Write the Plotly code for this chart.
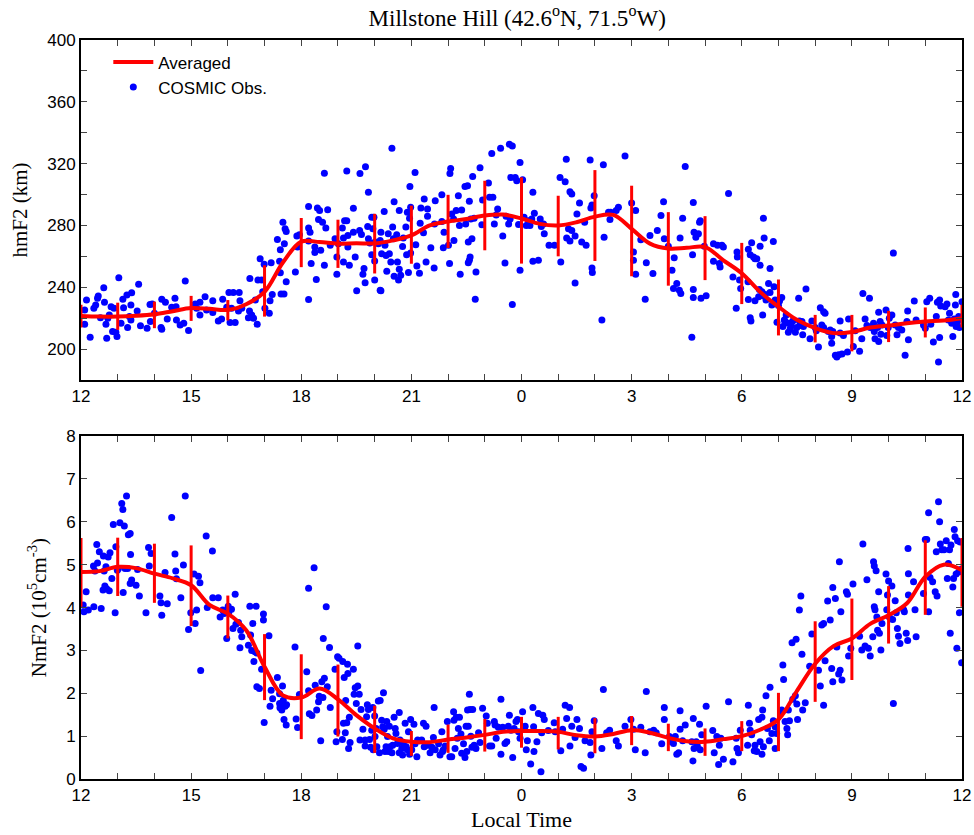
import plotly.graph_objects as go

# ---------------- data ----------------
# averaged curve (half-hour samples), local time expressed as 12..36 h
curve_time = [12 + 0.5 * i for i in range(49)]
curve_hmf2 = [221.4, 221, 221, 221.5, 222.5, 224.5, 226.5, 226, 225.3, 229, 237, 256, 269.5, 269.2, 268.2,
              268.5, 268.3, 270.3, 273.5, 280, 282.5, 284.2, 286.4, 287, 284.5, 281, 280, 282.1, 285.7,
              286.8, 277.8, 268.2, 265, 265.5, 266, 257.4, 249, 237, 227.4, 218.9, 213.5, 210.3, 211,
              213.9, 215.2, 216.7, 217.8, 218.5, 220]
curve_nmf2 = [4.83, 4.85, 4.95, 4.92, 4.79, 4.68, 4.52, 4.06, 3.86, 3.47, 2.62, 1.95, 1.9, 2.11, 1.86,
              1.49, 1.18, 0.95, 0.87, 0.86, 0.92, 0.97, 1.03, 1.1, 1.12, 1.12, 1.1, 1.02, 0.99, 1.05,
              1.14, 1.08, 0.96, 0.88, 0.87, 0.93, 1.0, 1.15, 1.39, 2.05, 2.69, 3.1, 3.28, 3.62, 3.82,
              4.1, 4.72, 5.0, 4.87]

# hourly mean and standard deviation (error bars)
bar_time = list(range(12, 37))
bar_hmf2 = [221.3, 221.2, 222.1, 226.3, 225.1, 237.6, 268.9, 268.1, 268.2, 274, 282.6, 286.4, 283.2,
            279.6, 286.4, 276.4, 264.8, 265.3, 248.9, 226.9, 213.2, 210.3, 214.6, 217.2, 221.3]
bar_hmf2_sd = [7.3, 8.8, 8.6, 8.1, 6.6, 16.6, 15.9, 15.6, 19.3, 18.8, 17.2, 22.5, 27.9, 19.6, 29.4,
               29.3, 23.8, 20.7, 19.8, 18.1, 8.9, 11.8, 10.1, 9.7, 7.3]
bar_nmf2 = [4.82, 4.95, 4.80, 4.51, 3.78, 2.61, 1.92, 1.83, 1.16, 0.83, 0.94, 1.02, 1.09, 1.07, 1.01,
            1.13, 0.97, 0.86, 1.0, 1.33, 2.74, 3.26, 3.83, 4.70, 4.82]
bar_nmf2_sd = [0.80, 0.68, 0.69, 0.94, 0.50, 0.77, 0.99, 0.84, 0.55, 0.29, 0.33, 0.38, 0.36, 0.38, 0.41,
               0.34, 0.32, 0.32, 0.35, 0.68, 0.94, 0.95, 0.67, 0.87, 0.80]

# COSMIC observations (local time, hmF2 km)
obs_hmf2 = [
    (12.1,225.3),(12.15,231.7),(12.1,216),(12.25,207.7),(12.35,226.4),(12.4,228.5),(12.45,232.8),(12.47,234.3),(12.53,220.3),(12.62,239.6),(12.64,230.2),(12.68,216),(12.7,207),(12.73,219.9),(12.77,222),(12.82,227.4),(12.86,211.3),(12.9,226.4),(12.95,210.9),(12.98,208.1),(13.03,246.1),(13.09,216.7),(13.14,232.3),(13.16,226.8),(13.25,234.9),(13.27,213.9),(13.32,221),(13.36,228.5),(13.38,236.4),(13.36,218.8),(13.53,224.6),(13.57,242),(13.62,215),(13.8,213.5),(13.88,228.9),(13.89,217.8),(13.94,229.1),(14.0,223.1),(14.18,213.9),(14.2,232.3),(14.2,212.8),(14.3,230.2),(14.35,219.5),(14.47,227),(14.56,232.8),(14.59,227.4),(14.6,218.8),(14.7,215.6),(14.8,216.7),(14.84,244.1),(14.93,212),(15.11,229.1),(15.15,226.4),(15.24,230.2),(15.24,222.1),(15.38,233.8),(15.42,225.3),(15.59,231.3),(15.59,223.6),(15.74,218.2),(15.83,219.5),(15.86,232.3),(15.97,227),(16.03,236.6),(16.06,217.1),(16.1,226.4),(16.15,236.6),(16.2,217.1),(16.29,224.6),(16.31,236.6),(16.33,231.3),(16.38,226.4),(16.56,220.3),(16.59,224.6),(16.6,245.6),(16.65,222),(16.7,219.9),(16.75,231.7),(16.8,216),(16.82,244.6),(16.88,258.5),(16.92,244.6),(16.95,237.1),(16.99,254.9),(17.01,226.4),(17.13,223.1),(17.15,231.3),(17.18,255.9),(17.21,235.3),(17.35,270.9),(17.41,256.8),(17.43,264.3),(17.45,235.6),(17.5,282.1),(17.53,235.6),(17.54,268.1),(17.56,277.8),(17.59,243.5),(17.59,276.1),(17.43,249.3),(17.84,249.9),(17.88,273.1),(17.9,266),(17.95,273.9),(18.2,292.2),(18.2,278.4),(18.2,232.1),(18.2,269.9),(18.24,275.6),(18.27,255.3),(18.37,266),(18.37,262.4),(18.41,245),(18.44,291.3),(18.47,283.8),(18.5,289.6),(18.53,263.9),(18.58,282.1),(18.63,313.8),(18.63,254.2),(18.67,278.4),(18.72,290.2),(18.79,267.1),(18.92,271.4),(18.97,259.6),(18.97,248.4),(19.01,268.1),(19.12,278.4),(19.15,271.8),(19.15,256.4),(19.18,283.1),(19.24,283.1),(19.24,315.3),(19.27,273.5),(19.27,266),(19.31,254.2),(19.42,291.1),(19.42,275.6),(19.47,259.6),(19.51,237.7),(19.59,276.7),(19.6,313.6),(19.64,274.1),(19.68,248.4),(19.71,252.1),(19.74,242.9),(19.75,317.9),(19.81,279.3),(19.83,301.4),(19.83,271.4),(19.87,268.6),(19.92,285.3),(19.92,261.1),(19.98,285.3),(20.0,257),(20.0,244.6),(20.1,268.1),(20.15,238.1),
    (20.17,237.7),(20.01,269.2),(19.95,277.8),(20.15,270.3),(20.17,275.6),(20.19,261.7),(20.26,289),(20.28,267.1),(20.31,260.6),(20.33,250.4),(20.37,274.6),(20.4,261.7),(20.44,256.4),(20.47,329.9),(20.49,278.9),(20.51,271.4),(20.53,295.4),(20.53,247.1),(20.6,273.9),(20.62,256.4),(20.65,244.6),(20.67,289.6),(20.67,251.6),(20.71,247.8),(20.76,266.4),(20.78,271.8),(20.85,278.9),(20.87,261.1),(20.89,288.5),(20.92,249.5),(20.95,284.7),(20.96,305.2),(20.98,291.7),(20.98,262.1),(21.1,314.2),(21.12,267.5),(21.15,253.8),(21.22,249),(21.24,281.4),(21.26,291.3),(21.33,275.2),(21.35,297.1),(21.4,256.4),(21.44,290.7),(21.44,285.9),(21.53,265.6),(21.62,252.5),(21.63,281),(21.65,296),(21.83,299.9),(21.83,282.5),(21.87,265.6),(21.89,275.6),(22.01,267.1),(22.04,255.3),(22.05,313.6),(22.07,316.8),(22.1,287.4),(22.15,284.2),(22.16,270.3),(22.22,289.6),(22.28,299.2),(22.31,279.9),(22.33,248.4),(22.37,290),(22.46,305.2),(22.48,281),(22.53,305.7),(22.55,255.9),(22.55,269.2),(22.58,257.4),(22.58,295.6),(22.6,259.6),(22.62,284.2),(22.65,271.4),(22.67,311.7),(22.71,284.7),(22.74,232.3),(22.76,249.9),(22.87,317.4),(22.92,280.4),(22.94,296.4),(23.1,307.4),(23.13,298.2),(23.19,326.5),(23.22,298.2),(23.26,281),(23.31,286.8),(23.35,290.7),(23.43,329.9),(23.49,273.1),(23.55,255.7),(23.58,285.9),(23.65,281),(23.67,332.5),(23.69,284.2),(23.71,311),(23.75,331.4),(23.75,228.9),(23.83,311),(23.87,308.9),(23.92,280.6),(23.96,251),(23.96,320.7),(24.03,309.5),(24.07,285.3),(24.13,279.9),(24.19,283.1),(24.23,279.9),(24.28,284.2),(24.31,301.4),(24.31,256.8),(24.35,287.9),(24.46,257.4),(24.51,284.2),(24.54,279.3),(24.6,281),(24.62,274.6),(24.75,267.1),(24.9,267.1),(25.05,311),(25.07,256.4),(25.19,308.2),(25.22,322.8),(25.23,271.8),(25.28,277.8),(25.32,301.8),(25.37,300.3),(25.37,276.7),(25.32,269.9),(25.46,273.1),(25.46,242.8),(25.51,287.4),(25.58,294.5),(25.64,269.2),(25.72,282.1),(25.76,267.1),(25.87,322.4),(25.89,291.3),(25.92,293.2),(25.92,252.5),(25.93,249.5),(25.98,299.2),(26.19,218.8),(26.23,319.2),(26.25,272.4),(26.37,288.5),(26.41,283.8),(26.43,288.5),(26.58,289.6),(26.64,291.7),(26.82,325),(27.0,294.5),(27.05,262.8),(27.05,257.4),(27.11,289.6),(27.11,248.4),(27.25,270.7),(27.37,232.3),(27.4,255.9),(27.5,273.5),(27.58,248.9),(27.7,276.7),(27.8,286.4),(27.87,295.4),(27.89,271.4),
    (28.0,266.6),(28.1,251),(28.14,239.2),(28.16,259.1),(28.23,242.4),(28.3,238.1),(28.34,236),(28.32,271.8),(28.39,284.6),(28.46,318.1),(28.64,207.7),(28.66,261.1),(28.68,294.9),(28.68,238.6),(28.68,233.4),(28.7,275.6),(28.75,272.4),(28.82,274.6),(28.85,282.1),(28.87,283.1),(28.89,232.8),(28.98,266.6),(29.03,234.5),(29.23,268.1),(29.23,256.8),(29.34,267.1),(29.39,255.3),(29.41,253.1),(29.46,267.1),(29.5,266),(29.64,300.7),(29.76,246.7),(29.85,226.4),(29.87,262.8),(29.88,259.6),(29.94,244.6),(29.97,239.2),(30.17,243.5),(30.18,264.5),(30.18,232.1),(30.23,261.1),(30.23,220.3),(30.25,218.2),(30.27,268.8),(30.32,259.6),(30.36,258.5),(30.36,231.3),(30.41,258.5),(30.46,233.8),(30.48,238.6),(30.5,266.6),(30.5,254.2),(30.55,237.1),(30.57,222.1),(30.58,234.5),(30.59,284.6),(30.61,271.8),(30.64,235.3),(30.66,231.7),(30.73,242.4),(30.77,252.1),(30.77,236.6),(30.82,228.5),(30.86,269.6),(30.88,240.3),(30.91,231.7),(30.96,217.3),(31.0,228.1),(31.03,231.1),(31.09,233.4),(31.12,214.6),(31.16,218.8),(31.18,217.8),(31.21,222.1),(31.27,216.7),(31.27,210.9),(31.32,213.1),(31.35,215),(31.39,218.2),(31.46,210.9),(31.5,213.9),(31.55,232.8),(31.57,218.2),(31.59,215.2),(31.64,217.8),(31.66,209.2),(31.68,214.6),(31.75,238.8),(31.86,206.6),(31.91,218.2),(32.0,213.9),(32.03,211.8),(32.09,201.3),(32.14,226.8),(32.18,215.6),(32.23,224.2),(32.23,213.9),(32.27,223.1),(32.36,211.3),(32.41,212.4),(32.45,208.1),(32.45,203.8),(32.48,211.3),(32.55,195.9),(32.59,194.8),(32.64,196.3),(32.68,218.2),(32.68,210.3),(32.73,196.8),(32.77,208.8),(32.88,198.1),(32.91,219.5),(33.04,201.7),(33.09,211.8),(33.21,198.5),(33.27,206.6),(33.3,236),(33.36,219.5),(33.41,215.2),(33.48,232.8),(33.5,213.9),(33.59,216.7),(33.61,211.3),(33.63,206.6),(33.7,213.9),(33.73,223.8),(33.73,204.9),(33.77,217.8),(33.79,209.6),(33.82,215.6),(33.93,225.3),(33.95,208.8),(33.99,213.9),(34.02,219.9),(34.09,222.1),(34.13,262.1),(34.18,215.6),(34.23,209.2),(34.27,213.9),(34.36,212.4),(34.45,195.9),(34.5,217.8),(34.52,224.6),(34.54,206),(34.7,231.1),(34.75,218.8),(34.95,215.6),(35.0,213.5),(35.04,230.6),(35.12,232.8),(35.15,216),(35.22,204.5),(35.3,221),(35.33,230.2),(35.39,231.7),(35.39,207.5),(35.36,191.6),(35.42,227.8),(35.54,227.4),(35.59,229.1),(35.63,218.8),(35.66,223.1),(35.72,216.7),(35.75,208.1),(35.79,219.5),(35.82,228.5),(35.83,235.3),(35.84,214.6),(35.88,217.8),(35.91,221),(35.93,213.9),(36.0,230.6),
]

# COSMIC observations (local time, NmF2 in 1e5 cm^-3)
obs_nmf2 = [
    (12.06,4.06),(12.08,3.90),(12.14,4.37),(12.2,3.94),(12.34,4.97),(12.35,4.02),(12.38,4.85),(12.43,5.47),(12.45,5.04),(12.5,5.3),(12.55,3.98),(12.6,4.41),(12.61,5.2),(12.63,4.85),(12.65,4.5),(12.68,4.95),(12.7,4.44),(12.74,5.18),(12.77,4.39),(12.79,5.28),(12.84,4.68),(12.88,5.94),(12.93,3.88),(12.95,5.42),(12.99,4.87),(13.02,4.91),(13.06,5.98),(13.11,6.43),(13.14,6.29),(13.15,4.35),(13.18,5.9),(13.2,4.91),(13.24,6.6),(13.27,4.91),(13.29,5.7),(13.34,4.56),(13.34,5.73),(13.35,5.24),(13.38,4.64),(13.5,4.52),(13.54,4.89),(13.59,4.27),(13.77,3.88),(13.84,5.4),(13.86,4.97),(13.91,5.26),(14.15,4.27),(14.18,4.11),(14.2,3.82),(14.29,4.82),(14.35,4.09),(14.47,6.1),(14.56,5.25),(14.58,4.85),(14.6,4.67),(14.72,4.23),(14.79,4.99),(14.84,6.6),(14.93,3.49),(14.99,3.88),(15.08,4.78),(15.11,3.63),(15.15,3.94),(15.2,4.73),(15.24,4.58),(15.26,2.53),(15.41,5.67),(15.44,4.0),(15.58,5.32),(15.59,4.23),(15.74,4.23),(15.79,3.78),(15.86,3.94),(15.9,3.86),(15.97,3.28),(16.01,4.03),(16.03,3.9),(16.1,3.96),(16.14,3.51),(16.2,4.31),(16.22,3.61),(16.29,3.65),(16.33,3.06),(16.35,3.47),(16.38,3.32),(16.56,3.12),(16.6,4.03),(16.62,3.36),(16.65,3.0),(16.68,3.63),(16.71,2.74),(16.74,2.97),(16.77,4.03),(16.79,2.94),(16.79,2.15),(16.86,2.11),(16.92,2.56),(16.97,3.85),(16.97,3.71),(16.99,1.32),(17.12,3.34),(17.15,1.7),(17.18,2.07),(17.22,1.87),(17.35,2.37),(17.41,1.99),(17.41,1.76),(17.42,1.66),(17.47,1.61),(17.49,2.17),(17.51,1.84),(17.53,1.39),(17.56,1.7),(17.59,1.26),(17.6,1.73),(17.83,3.08),(17.86,1.4),(17.9,1.2),(17.95,1.97),(18.15,2.5),(18.2,4.45),(18.2,2.06),(18.22,1.52),(18.29,1.48),(18.35,4.93),(18.38,2.19),(18.42,1.61),(18.47,1.8),(18.49,1.93),(18.53,0.89),(18.56,2.27),(18.59,1.9),(18.6,3.28),(18.63,2.35),(18.68,4.02),(18.71,2.15),(18.77,3.07),(18.79,1.67),(18.92,2.56),(18.95,0.87),(18.97,1.1),(18.99,2.85),(19.03,2.82),(19.12,0.92),(19.13,2.74),(19.15,1.3),(19.17,2.37),(19.2,1.08),(19.21,1.83),(19.24,1.31),(19.26,2.68),(19.27,2.46),(19.29,0.71),(19.31,1.44),(19.33,0.85),(19.42,2.56),(19.44,1.98),(19.47,2.13),(19.5,1.76),(19.54,3.1),(19.54,2.17),(19.58,1.98),(19.6,0.91),(19.63,1.62),(19.68,1.16),(19.74,0.91),(19.74,0.77),(19.78,1.45),(19.8,1.73),(19.83,1.62),(19.86,0.92),(19.89,0.74),(19.95,1.67),(19.96,0.68),(20.0,1.47),(20.04,1.18),(20.06,0.75),(20.1,1.82),(20.13,0.61),
    (19.92,1.14),(20.01,0.99),(20.15,1.83),(20.19,1.37),(20.22,1.22),(20.24,2.01),(20.26,1.16),(20.28,0.64),(20.31,0.75),(20.33,1.34),(20.35,0.99),(20.37,0.64),(20.4,1.23),(20.42,0.75),(20.47,0.61),(20.49,0.79),(20.53,1.44),(20.56,1.18),(20.58,1.06),(20.62,0.83),(20.67,1.55),(20.67,0.61),(20.69,0.91),(20.74,0.71),(20.76,0.56),(20.78,0.82),(20.83,1.3),(20.86,0.75),(20.89,0.68),(20.92,1.1),(20.95,0.58),(20.98,1.39),(21.01,0.68),(21.07,1.28),(21.1,0.82),(21.15,0.52),(21.17,0.91),(21.22,0.89),(21.28,0.91),(21.33,1.3),(21.35,0.75),(21.4,1.23),(21.44,0.79),(21.51,0.61),(21.56,0.74),(21.6,0.97),(21.62,1.67),(21.65,0.68),(21.74,0.82),(21.78,0.56),(21.83,1.1),(21.85,0.64),(21.87,0.68),(21.92,0.77),(21.98,1.34),(22.05,0.52),(22.1,0.52),(22.15,1.57),(22.16,1.37),(22.19,0.71),(22.22,1.44),(22.25,0.95),(22.28,1.18),(22.31,1.44),(22.35,1.05),(22.37,0.6),(22.42,0.82),(22.46,0.5),(22.49,1.23),(22.51,0.64),(22.53,1.61),(22.55,1.23),(22.58,1.98),(22.6,1.62),(22.62,1.0),(22.65,0.74),(22.67,1.62),(22.71,0.79),(22.76,0.71),(22.83,1.08),(22.87,0.85),(22.94,1.65),(23.04,1.47),(23.07,1.3),(23.13,0.77),(23.19,0.77),(23.26,1.34),(23.28,1.26),(23.31,0.95),(23.37,1.21),(23.44,1.86),(23.44,0.58),(23.49,1.21),(23.55,0.83),(23.6,0.87),(23.64,1.23),(23.67,1.49),(23.71,1.14),(23.76,0.5),(23.8,1.18),(23.85,1.34),(23.89,1.39),(23.92,1.1),(23.96,0.95),(24.03,1.57),(24.1,1.23),(24.13,0.68),(24.16,0.89),(24.25,0.35),(24.31,1.67),(24.33,1.22),(24.34,0.64),(24.42,0.87),(24.46,1.53),(24.53,0.17),(24.55,1.08),(24.58,1.49),(24.62,1.39),(24.73,1.13),(24.89,1.31),(24.92,1.1),(25.07,0.66),(25.12,1.16),(25.19,1.72),(25.23,1.41),(25.31,1.67),(25.32,0.77),(25.37,1.23),(25.46,0.97),(25.51,1.39),(25.58,1.18),(25.62,0.29),(25.69,0.25),(25.73,0.89),(25.87,0.85),(25.89,0.56),(25.92,1.1),(25.98,1.36),(26.19,0.71),(26.23,2.09),(26.32,1.08),(26.4,1.14),(26.58,0.89),(26.64,0.77),(26.82,1.23),(26.98,1.39),(27.05,1.16),(27.1,0.68),(27.25,1.21),(27.37,0.61),(27.4,2.04),(27.5,1.1),(27.6,1.14),(27.67,1.08),(27.82,0.82),(27.89,1.67),(27.89,1.39),
    (28.03,0.99),(28.09,0.87),(28.14,0.83),(28.19,0.99),(28.23,0.58),(28.28,0.61),(28.32,1.59),(28.32,1.16),(28.39,0.89),(28.46,1.26),(28.64,0.87),(28.67,0.42),(28.68,1.41),(28.7,0.71),(28.76,0.87),(28.79,0.77),(28.85,1.28),(28.87,0.68),(28.91,1.03),(29.03,1.7),(29.21,1.13),(29.25,0.61),(29.32,0.99),(29.37,0.34),(29.39,0.79),(29.43,0.95),(29.5,0.46),(29.64,1.8),(29.76,0.4),(29.85,0.95),(29.87,0.71),(29.91,0.61),(29.96,1.14),(30.16,0.79),(30.18,1.72),(30.21,1.3),(30.23,1.14),(30.27,1.03),(30.34,0.66),(30.36,0.79),(30.41,0.64),(30.46,1.39),(30.5,0.87),(30.55,1.44),(30.55,0.58),(30.57,1.61),(30.59,0.75),(30.66,1.94),(30.7,1.18),(30.75,0.89),(30.77,2.14),(30.82,1.06),(30.86,1.36),(30.91,1.22),(30.91,0.71),(30.95,1.06),(31.06,1.53),(31.09,1.61),(31.12,2.66),(31.14,2.32),(31.18,1.34),(31.23,1.18),(31.25,1.03),(31.27,1.61),(31.3,1.36),(31.37,3.18),(31.39,1.86),(31.46,1.94),(31.48,3.26),(31.5,1.75),(31.52,1.39),(31.57,3.94),(31.61,4.27),(31.64,2.91),(31.66,1.61),(31.73,1.78),(31.85,2.63),(31.91,3.38),(32.09,2.54),(32.14,2.17),(32.23,1.72),(32.18,3.59),(32.23,3.63),(32.27,2.76),(32.34,4.15),(32.41,3.71),(32.45,2.58),(32.48,4.47),(32.48,2.27),(32.55,4.21),(32.59,3.08),(32.64,2.45),(32.66,5.07),(32.68,2.54),(32.7,3.9),(32.73,2.31),(32.85,4.37),(32.88,4.31),(32.91,2.87),(32.97,3.05),(33.03,4.55),(33.21,3.33),(33.27,3.01),(33.3,5.48),(33.36,3.1),(33.41,4.65),(33.45,3.05),(33.5,2.87),(33.57,3.32),(33.59,5.07),(33.61,4.97),(33.61,4.02),(33.63,3.95),(33.66,4.86),(33.68,3.78),(33.7,3.47),(33.73,4.37),(33.75,3.4),(33.79,3.01),(33.82,3.63),(33.93,4.78),(33.95,3.95),(33.97,4.29),(34.0,4.62),(34.02,3.78),(34.09,4.5),(34.11,3.72),(34.13,1.76),(34.18,4.16),(34.21,3.88),(34.24,3.51),(34.27,3.33),(34.31,3.16),(34.41,3.95),(34.43,3.9),(34.48,3.4),(34.52,3.23),(34.53,5.38),(34.54,4.79),(34.54,4.29),(34.68,4.6),(34.72,3.95),(34.75,3.32),(34.95,4.33),(35.0,5.59),(35.04,5.59),(35.09,6.21),(35.09,3.9),(35.13,4.7),(35.2,4.6),(35.27,4.37),(35.3,5.3),(35.32,4.27),(35.36,6.47),(35.39,6.0),(35.41,5.48),(35.45,5.35),(35.51,5.35),(35.57,5.56),(35.6,4.68),(35.63,5.03),(35.66,5.35),(35.68,3.4),(35.7,5.46),(35.75,4.48),(35.77,4.68),(35.79,5.82),(35.81,5.65),(35.84,4.78),(35.86,3.05),(35.88,5.56),(35.91,4.83),(35.93,3.88),(35.95,5.53),(35.96,4.89),(35.99,2.71),
]

# tick labels: local time 12..36 h shown as clock hours
time_tickvals = [12, 15, 18, 21, 24, 27, 30, 33, 36]
time_ticktext = ["12", "15", "18", "21", "0", "3", "6", "9", "12"]
hm_tickvals = [200, 240, 280, 320, 360, 400]
nm_tickvals = [0, 1, 2, 3, 4, 5, 6, 7, 8]

# ---------------- figure ----------------
BLUE = "#0000FF"
RED = "#FF0000"
SERIF = "Liberation Serif"
SANS = "Liberation Sans"

fig = go.Figure()

panels = [
    ("x", "y", obs_hmf2, curve_hmf2, bar_hmf2, bar_hmf2_sd, True),
    ("x2", "y2", obs_nmf2, curve_nmf2, bar_nmf2, bar_nmf2_sd, False),
]
for xa, ya, obs, curve, bmean, bsd, legend in panels:
    fig.add_trace(go.Scatter(
        x=[p[0] for p in obs], y=[p[1] for p in obs], mode="markers",
        marker=dict(color=BLUE, size=7, line=dict(width=0)),
        name="COSMIC Obs.", showlegend=legend, legendrank=2, xaxis=xa, yaxis=ya))
    fig.add_trace(go.Scatter(
        x=bar_time, y=bmean, mode="markers", marker=dict(color=RED, size=1, opacity=0),
        error_y=dict(type="data", array=bsd, color=RED, thickness=3, width=0, visible=True),
        showlegend=False, hoverinfo="skip", xaxis=xa, yaxis=ya))
    fig.add_trace(go.Scatter(
        x=curve_time, y=curve, mode="lines", line=dict(color=RED, width=4, shape="spline"),
        name="Averaged", showlegend=legend, legendrank=1, xaxis=xa, yaxis=ya))

tick_style = dict(ticks="inside", ticklen=6, tickwidth=1, tickcolor="#444")
common = dict(
    showline=True, linecolor="black", linewidth=2, mirror="ticks",
    showgrid=False, zeroline=False, automargin=False,
    tickfont=dict(family=SANS, size=17, color="black"), **tick_style,
)
xcommon = dict(range=[12, 36], tickmode="array", tickvals=time_tickvals, ticktext=time_ticktext,
               minor=dict(dtick=1, tick0=12, showgrid=False, **tick_style), **common)

fig.update_layout(
    width=974, height=835,
    margin=dict(l=81, r=12, t=40, b=56, autoexpand=False),
    paper_bgcolor="white", plot_bgcolor="white",
    title=dict(text="Millstone Hill (42.6<sup>o</sup>N, 71.5<sup>o</sup>W)",
               font=dict(family=SERIF, size=23, color="black"),
               x=0.531, xanchor="center", y=0.979, yanchor="middle"),
    xaxis=dict(domain=[0, 1], anchor="y", **xcommon),
    yaxis=dict(domain=[0.54, 1], anchor="x", range=[180, 400],
               tickmode="array", tickvals=hm_tickvals,
               minor=dict(dtick=20, tick0=200, showgrid=False, **tick_style),
               title=dict(text="hmF2 (km)", font=dict(family=SERIF, size=21, color="black"), standoff=14),
               **common),
    xaxis2=dict(domain=[0, 1], anchor="y2",
                title=dict(text="Local Time", font=dict(family=SERIF, size=22, color="black"), standoff=7),
                **xcommon),
    yaxis2=dict(domain=[0, 0.464], anchor="x2", range=[0, 8],
                tickmode="array", tickvals=nm_tickvals,
                title=dict(text="NmF2 (10<sup>5</sup>cm<sup>-3</sup>)",
                           font=dict(family=SERIF, size=21, color="black"), standoff=14),
                **common),
    legend=dict(x=0.031, y=0.994, xanchor="left", yanchor="top",
                bgcolor="rgba(0,0,0,0)", font=dict(family=SANS, size=17, color="black"),
                tracegroupgap=0, itemwidth=40),
    showlegend=True,
)

fig.write_html("out.html")
